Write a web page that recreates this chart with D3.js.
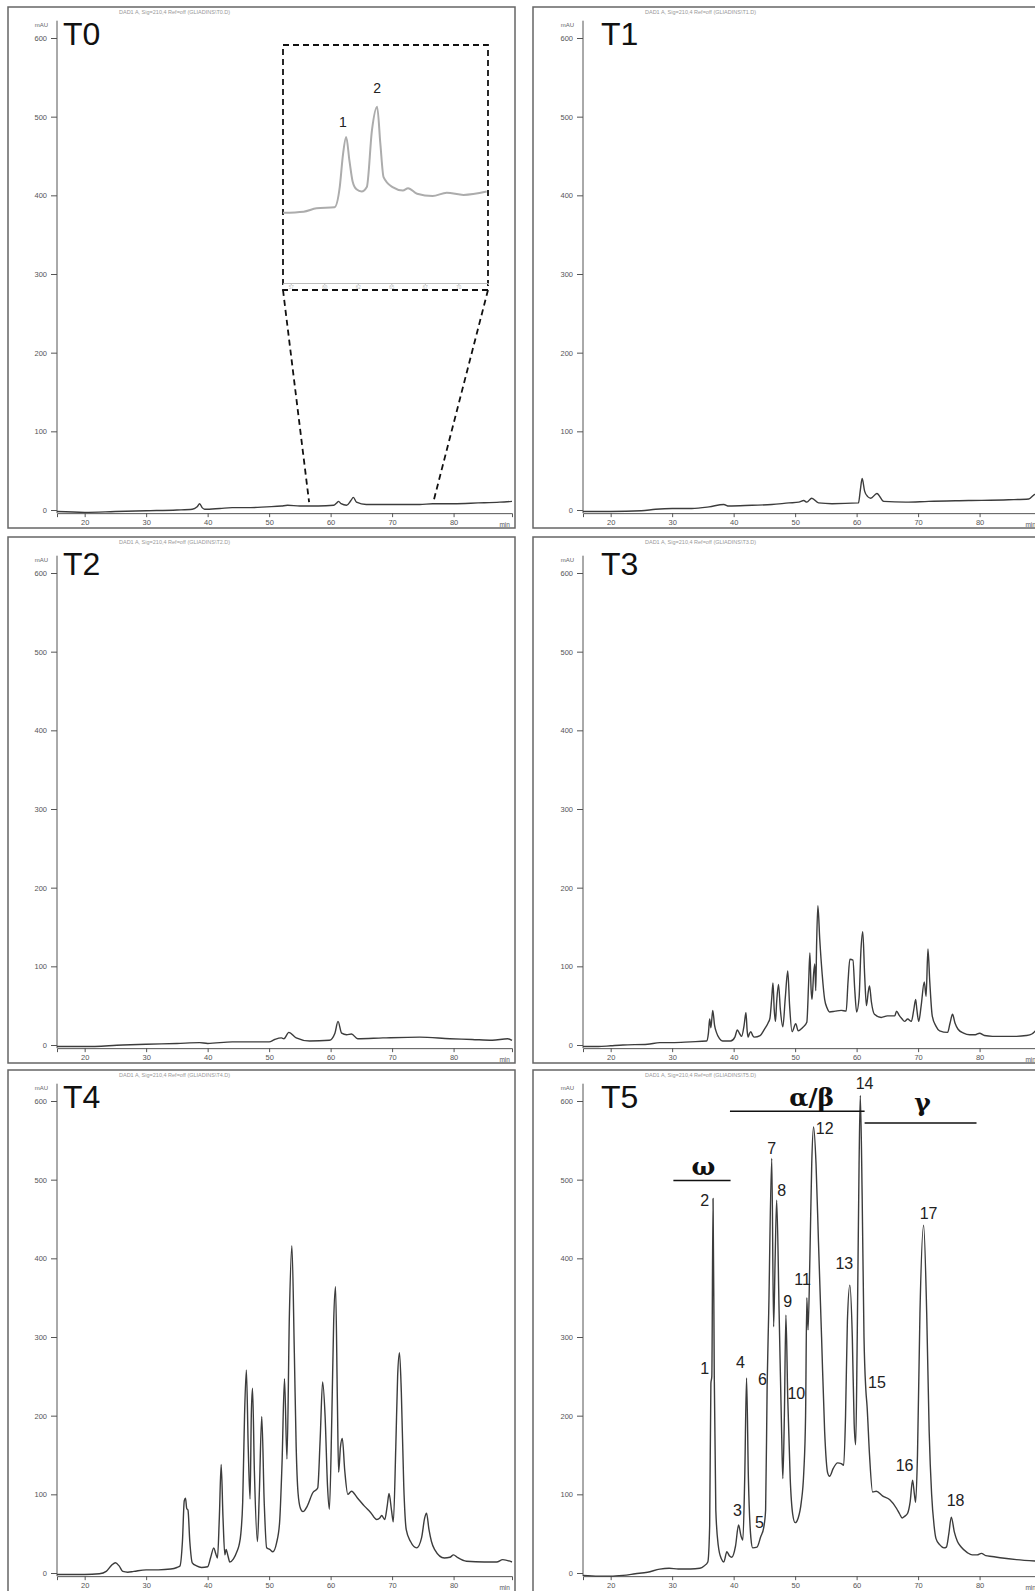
<!DOCTYPE html>
<html>
<head>
<meta charset="utf-8">
<script src="https://cdnjs.cloudflare.com/ajax/libs/d3/7.8.5/d3.min.js"></script>
<style>
  body { margin: 0; background: #fff; }
  text { font-family: "Liberation Sans", Arial, sans-serif; }
</style>
</head>
<body>
<script>
// six RP-HPLC chromatograms, T0..T5, drawn on a 2x3 grid

var width = 1035,
    height = 1591;

var sampleNames = ['T0', 'T1', 'T2', 'T3', 'T4', 'T5'];
var yTicks = [0, 100, 200, 300, 400, 500, 600];
var xTicks = [20, 30, 40, 50, 60, 70, 80];

// [retention time (min), absorbance (mAU)]
var t0Trace = [[15.5,-2],[20,-3],[25,-2],[30,-1],[35,0],[37.5,1],[38.3,4],[38.7,8],[39.1,3],[39.5,1],[42,2],[44,3],[47,3],[49.6,4],[52,5],[53,6],[55,5],[58,5],[60.5,6],[61,9],[61.3,11],[61.7,8],[62.6,6],[63.3,12],[63.7,16],[64.2,10],[65.8,7],[70,7],[74.5,7],[76.6,8],[80,8],[84,9],[87.5,10],[89.5,11]];

var t1Trace = [[15.5,-2],[20,-2],[25,-1],[27.3,1],[30,2],[33.2,2],[36,4],[38.4,7],[39.2,5],[43,6],[46.2,7],[49,9],[50.6,10],[51.4,12],[51.9,10],[52.7,15],[53.8,9],[56,8],[60.3,9],[60.6,25],[60.9,40],[61.3,24],[61.8,17],[62.3,15],[63.3,21],[64.4,11],[68,10],[71.7,11],[78.2,12],[84.7,13],[88,14],[88.8,19],[89.5,22]];

var t2Trace = [[15.5,-2],[20,-2],[26.2,0],[30,1],[35,2],[38.7,3],[40,2],[44,4],[50,4],[50.9,7],[52,9],[52.4,8],[53.2,16],[54.4,9],[56.6,5],[59.8,6],[60.7,15],[61.2,30],[61.8,15],[62.6,13],[63.4,14],[64.4,8],[68.5,9],[74.5,10],[79.4,8],[83,7],[86.3,6],[88.8,8],[89.5,6]];

var t3Trace = [[15.5,-2],[18,-2],[20,-1],[22,0],[26,1],[28,3],[30,3],[33,4],[35.6,5],[35.9,15],[36.1,33],[36.3,22],[36.6,44],[36.9,25],[37.2,16],[37.7,8],[38.2,5],[39.5,5],[40.2,10],[40.6,19],[41,14],[41.3,11],[41.7,25],[42,41],[42.2,18],[42.35,10],[42.6,15],[42.8,17],[43.1,12],[43.4,10],[44.3,12],[45,20],[45.6,28],[45.9,34],[46.2,60],[46.4,79],[46.6,45],[46.8,30],[47,55],[47.3,77],[47.6,45],[48,23],[48.4,60],[48.8,94],[49.1,50],[49.5,17],[50.1,27],[50.5,18],[51.2,22],[51.9,29],[52.2,80],[52.4,117],[52.6,70],[52.75,58],[53,90],[53.2,103],[53.35,69],[53.5,130],[53.7,177],[54,135],[54.4,90],[54.8,58],[55.2,47],[55.6,42],[56.5,43],[57.5,44],[58.3,43],[58.6,80],[58.9,109],[59.4,108],[59.7,70],[60,42],[60.4,60],[60.7,120],[61,144],[61.3,90],[61.6,50],[61.9,68],[62.1,75],[62.4,55],[62.9,39],[64,35],[65,37],[66.2,37],[66.5,43],[66.9,38],[67.4,33],[67.8,30],[68.3,33],[68.9,30],[69.3,45],[69.6,58],[69.8,45],[70.1,30],[70.5,50],[71,80],[71.3,62],[71.6,122],[71.9,80],[72.3,37],[72.9,24],[73.5,18],[74.8,16],[75.2,28],[75.6,39],[76,28],[76.5,20],[77.4,15],[78.4,13],[79.3,13],[80,15],[80.8,12],[82.1,11],[84,11],[86,11],[87.6,12],[88.5,14],[89.5,22]];

var t4Trace = [[15.5,-2],[18,-2],[20,-2],[22.4,-1],[23.5,2],[24.4,10],[25,13],[25.6,9],[26.2,2],[27,1],[28,2],[30,4],[32,4],[34,5],[35,7],[35.5,9],[35.9,40],[36.2,92],[36.4,95],[36.6,82],[36.8,80],[37.1,40],[37.5,13],[38.2,9],[39,7],[40,8],[40.5,20],[41,32],[41.3,25],[41.6,19],[41.9,70],[42.2,138],[42.5,70],[42.8,23],[43,30],[43.3,22],[43.6,14],[44.2,18],[44.8,28],[45.1,35],[45.4,50],[45.7,90],[46,200],[46.3,258],[46.6,160],[46.9,94],[47.1,200],[47.3,235],[47.6,130],[48.1,40],[48.4,100],[48.8,199],[49.2,90],[49.6,32],[50.1,30],[50.6,27],[51.2,38],[51.7,64],[52.1,140],[52.5,247],[52.9,145],[53.3,330],[53.7,416],[54.1,280],[54.4,160],[54.7,102],[55.1,82],[55.5,78],[56.2,85],[57.1,102],[57.9,108],[58.3,170],[58.7,243],[59.1,200],[59.5,110],[59.8,81],[60.2,200],[60.5,320],[60.8,364],[61.1,220],[61.3,128],[61.6,160],[61.9,171],[62.3,130],[62.8,100],[63.4,104],[64.3,96],[65.5,85],[66.5,77],[67.5,68],[68,70],[68.3,73],[68.8,68],[69.2,85],[69.5,101],[69.9,80],[70.2,65],[70.6,160],[70.9,250],[71.2,280],[71.5,230],[71.9,110],[72.3,55],[73,40],[74,32],[74.8,45],[75.3,70],[75.6,76],[76,55],[76.4,40],[76.9,30],[78.5,19],[79.4,20],[80,23],[80.6,20],[82.1,15],[85,14],[87,14],[88,17],[89.5,14]];

var t5Trace = [[15.5,-3],[18,-4],[20,-4],[22,-3],[24,-1],[26,1],[28,5],[29.5,6],[31,5],[33,5],[34.5,6],[35.2,9],[35.8,14],[36.1,60],[36.3,241],[36.45,250],[36.65,476],[36.85,250],[37.1,80],[37.5,35],[38,18],[38.4,14],[38.9,27],[39.3,22],[39.7,20],[40.3,34],[40.8,61],[41.2,47],[41.5,42],[41.8,120],[42.1,248],[42.4,120],[42.8,45],[43.1,32],[43.8,33],[44.4,46],[44.9,58],[45.2,80],[45.45,239],[45.7,330],[46.2,527],[46.5,313],[46.75,400],[47,474],[47.4,330],[47.8,180],[48,120],[48.25,200],[48.5,328],[48.8,222],[49.2,120],[49.6,75],[50,64],[50.5,70],[51,90],[51.4,127],[51.7,200],[51.9,350],[52.1,309],[52.4,400],[52.7,520],[53,567],[53.4,520],[53.8,420],[54.3,300],[54.8,180],[55.3,127],[55.6,123],[56.2,133],[56.9,140],[57.5,139],[57.9,137],[58.2,200],[58.5,320],[58.9,366],[59.3,300],[59.6,190],[59.85,163],[60.1,300],[60.4,520],[60.6,607],[60.9,480],[61.2,300],[61.5,233],[61.7,212],[62.1,150],[62.6,103],[63.2,104],[64.2,98],[65.4,93],[66.5,82],[67,75],[67.4,70],[67.8,72],[68.3,76],[68.7,90],[69.1,118],[69.4,100],[69.6,90],[69.9,150],[70.3,330],[70.9,442],[71.4,330],[71.8,180],[72.2,100],[72.6,60],[72.9,44],[73.5,36],[74.2,32],[74.6,33],[75,50],[75.4,71],[75.9,52],[76.4,40],[77,33],[78,26],[78.8,23],[79.6,23],[80.3,25],[81,22],[82,21],[83.7,19],[86,17],[89.5,15]];

var traces = [t0Trace, t1Trace, t2Trace, t3Trace, t4Trace, t5Trace];

// T0 inset (zoom of the 56-72 min window)
var insetTrace = [[56.4,6.3],[58,6.4],[59,6.7],[60.4,6.8],[60.8,8.6],[61.05,11.5],[61.3,13.1],[61.55,11],[61.8,9.1],[62.1,8.4],[62.5,8.2],[62.9,8.6],[63.3,13.7],[63.7,15.8],[63.95,12.5],[64.2,9.5],[64.9,8.6],[65.7,8.3],[66.1,8.5],[66.8,8.0],[68,7.8],[69.1,8.1],[70.4,7.9],[72.2,8.2]];
var insetPeakNames = ['1', '2'];
var insetPeakTime = [61.05, 63.7];
var insetPeakLevel = [14.0, 17.0];
var insetTicks = [57, 59.6, 62.2, 64.8, 67.4, 70];
var zoomWindow = [56.5, 76.7];

// T5 peak numbering and protein fractions
var peakNames = ['1','2','3','4','5','6','7','8','9','10','11','12','13','14','15','16','17','18'];
var peakLabelTime = [35.3, 35.3, 40.6, 41.1, 44.2, 44.7, 46.2, 47.8, 48.8, 50.2, 51.2, 54.8, 58.0, 61.3, 63.3, 67.8, 71.7, 76.1];
var peakLabelLevel = [253, 466, 72, 260, 57, 239, 532, 479, 338, 221, 366, 558, 386, 615, 235, 130, 450, 85];
var fractionNames = ['\u03c9', '\u03b1/\u03b2', '\u03b3'];
var fractionStart = [30.2, 39.4, 61.3];
var fractionEnd = [39.5, 61.3, 79.5];
var fractionLevel = [499, 587, 572];
var fractionLabelTime = [35.1, 52.7, 70.7];

var colLeft = [8, 533],
    colAxis = [57, 583],
    colLabel = [63, 601],
    rowTop = [7, 537, 1070],
    rowZero = [510, 1045, 1573];

var svg = d3.select('body').append('svg')
    .attr('width', width)
    .attr('height', height);

var scales = [];

sampleNames.forEach(function(name, i) {
  var col = i % 2, row = Math.floor(i / 2);
  var g = svg.append('g');

  var x = d3.scaleLinear().domain([15.5, 89.5]).range([colAxis[col], colAxis[col] + 455]);
  var y = d3.scaleLinear().domain([0, 600]).range([rowZero[row], rowZero[row] - 472]);
  scales.push({x: x, y: y});

  var bottom = row < 2 ? rowZero[row] + 18 : height + 10;
  g.append('rect')
    .attr('x', colLeft[col]).attr('y', rowTop[row])
    .attr('width', 507).attr('height', bottom - rowTop[row])
    .attr('fill', 'none').attr('stroke', '#666').attr('stroke-width', 1.5);

  // instrument header line (illegible in the source)
  g.append('text')
    .attr('x', colAxis[col] + 62).attr('y', rowTop[row] + 7)
    .attr('font-size', 5.5).attr('fill', '#999')
    .text('DAD1 A, Sig=210,4 Ref=off (GLIADINS\\' + name + '.D)');

  // y axis
  var yAxis = g.append('g').attr('transform', 'translate(' + colAxis[col] + ',0)');
  yAxis.call(d3.axisLeft(y).tickValues(d3.range(0, 620, 20)).tickSize(2.5).tickFormat(''));
  yAxis.call(d3.axisLeft(y).tickValues(yTicks).tickSize(6).tickPadding(4));
  yAxis.selectAll('.domain').remove();
  yAxis.append('line').attr('y1', y(-4)).attr('y2', y(622)).attr('stroke', '#555');
  yAxis.selectAll('line').attr('stroke', '#555');
  yAxis.selectAll('text').attr('font-size', 7.5).attr('fill', '#555');
  g.append('text')
    .attr('x', colAxis[col] - 9).attr('y', y(622) + 6)
    .attr('text-anchor', 'end').attr('font-size', 6).attr('fill', '#666')
    .text('mAU');

  // x axis
  var xAxis = g.append('g').attr('transform', 'translate(0,' + y(-4) + ')');
  xAxis.call(d3.axisBottom(x).tickValues(d3.range(16, 90, 2)).tickSize(2).tickFormat(''));
  xAxis.call(d3.axisBottom(x).tickValues(xTicks).tickSize(4).tickPadding(3));
  xAxis.selectAll('path, line').attr('stroke', '#555');
  xAxis.selectAll('text').attr('font-size', 7.5).attr('fill', '#555');
  g.append('text')
    .attr('x', x(88.3)).attr('y', y(-4) + 14)
    .attr('text-anchor', 'middle').attr('font-size', 6.5).attr('fill', '#555')
    .text('min');

  var line = d3.line()
    .x(function(d) { return x(d[0]); })
    .y(function(d) { return y(d[1]); })
    .curve(d3.curveMonotoneX);

  g.append('path')
    .datum(traces[i])
    .attr('d', line)
    .attr('fill', 'none')
    .attr('stroke', '#3c3c3c')
    .attr('stroke-width', 1.4)
    .attr('stroke-linejoin', 'round');

  g.append('text')
    .attr('x', colLabel[col]).attr('y', rowTop[row] + 38)
    .attr('font-size', 32).attr('fill', '#111')
    .text(name);
});

// ---- T0 inset ----
var s0 = scales[0];
var inset = {left: 283, right: 488, top: 45, bottom: 290, axis: 283};
var ix = d3.scaleLinear().domain([56.4, 72.3]).range([inset.left, inset.right]);
var iy = d3.scaleLinear().domain([0, 20]).range([inset.axis, 60]);

var ig = svg.append('g');
ig.append('rect')
  .attr('x', inset.left).attr('y', inset.top)
  .attr('width', inset.right - inset.left).attr('height', inset.bottom - inset.top)
  .attr('fill', '#fff').attr('stroke', '#111')
  .attr('stroke-width', 1.8).attr('stroke-dasharray', '6,4');

var iAxis = ig.append('g').attr('transform', 'translate(0,' + inset.axis + ')');
iAxis.call(d3.axisBottom(ix).tickValues(insetTicks).tickSize(2).tickPadding(1).tickFormat(d3.format('.0f')));
iAxis.selectAll('path, line').attr('stroke', '#bbb');
iAxis.selectAll('text').attr('font-size', 4.5).attr('fill', '#bbb');

ig.append('path')
  .datum(insetTrace)
  .attr('d', d3.line()
    .x(function(d) { return ix(d[0]); })
    .y(function(d) { return iy(d[1]); })
    .curve(d3.curveMonotoneX))
  .attr('fill', 'none')
  .attr('stroke', '#acacac')
  .attr('stroke-width', 2);

ig.selectAll('.ipk')
  .data(insetPeakNames)
  .enter().append('text')
  .attr('x', function(d, k) { return ix(insetPeakTime[k]); })
  .attr('y', function(d, k) { return iy(insetPeakLevel[k]); })
  .attr('text-anchor', 'middle').attr('font-size', 14).attr('fill', '#222')
  .text(function(d) { return d; });

// connectors from the inset down to the zoomed window
[inset.left, inset.right].forEach(function(px, k) {
  ig.append('line')
    .attr('x1', px).attr('y1', inset.bottom)
    .attr('x2', s0.x(zoomWindow[k])).attr('y2', s0.y(10))
    .attr('stroke', '#111').attr('stroke-width', 1.8)
    .attr('stroke-dasharray', '6,4');
});

// ---- T5 annotations ----
var s5 = scales[5];
var ag = svg.append('g');

ag.selectAll('.frac')
  .data(fractionNames)
  .enter().append('line')
  .attr('x1', function(d, k) { return s5.x(fractionStart[k]); })
  .attr('x2', function(d, k) { return s5.x(fractionEnd[k]); })
  .attr('y1', function(d, k) { return s5.y(fractionLevel[k]); })
  .attr('y2', function(d, k) { return s5.y(fractionLevel[k]); })
  .attr('stroke', '#111').attr('stroke-width', 1.6);

ag.selectAll('.fracLabel')
  .data(fractionNames)
  .enter().append('text')
  .attr('x', function(d, k) { return s5.x(fractionLabelTime[k]); })
  .attr('y', function(d, k) { return s5.y(fractionLevel[k]) - (k === 2 ? 12 : 5); })
  .attr('text-anchor', 'middle')
  .style('font-family', '"DejaVu Serif", "Liberation Serif", serif')
  .attr('font-size', 25).attr('font-weight', 'bold').attr('fill', '#111')
  .text(function(d) { return d; });

ag.selectAll('.pk')
  .data(peakNames)
  .enter().append('text')
  .attr('x', function(d, k) { return s5.x(peakLabelTime[k]); })
  .attr('y', function(d, k) { return s5.y(peakLabelLevel[k]); })
  .attr('text-anchor', 'middle').attr('font-size', 16).attr('fill', '#222')
  .text(function(d) { return d; });
</script>
</body>
</html>
